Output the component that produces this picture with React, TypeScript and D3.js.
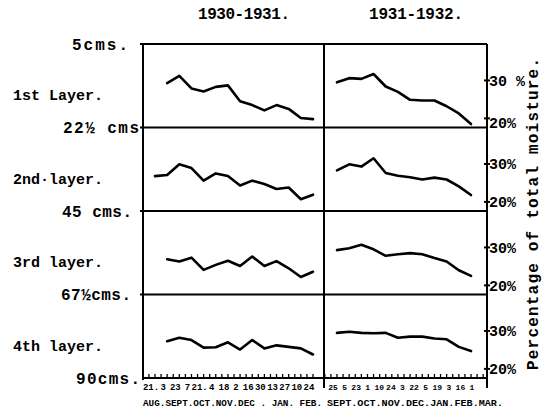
import React from "react";
import * as d3 from "d3";

const seasons = ["1930-1931.", "1931-1932."];
const layerNames = ["1st Layer.", "2nd·layer.", "3rd layer.", "4th layer."];
const depthLabels = ["5cms.", "22½ cms", "45 cms.", "67½cms.", "90cms."];
const leftDates = ["21.", "3", "23", "7", "21.", "4", "18", "2", "16", "30", "13", "27", "10", "24"];
const rightDates = ["25", "5", "23", "1", "10", "24", "3", "22", "5", "19", "3", "16", "1"];
const leftMonths = "AUG.SEPT.OCT.NOV.DEC . JAN. FEB.";
const rightMonths = "SEPT.OCT.NOV.DEC.JAN.FEB.MAR.";
const pctTicks = [30, 20];
const yAxisTitle = "Percentage of total moisture.";

// 1930-1931 season, one value per sampling date (null = no reading)
const left1 = [null, 29.3, 31.2, 27.9, 27.1, 28.3, 28.7, 24.5, 23.5, 22.1, 23.5, 22.5, 20.1, 19.8];
const left2 = [26.8, 27.1, 29.9, 28.9, 25.6, 27.5, 26.8, 24.3, 25.6, 24.7, 23.4, 23.8, 20.7, 21.9];
const left3 = [null, 26.9, 26.3, 27.3, 24.1, 25.4, 26.5, 25.1, 27.6, 25.1, 26.4, 24.5, 22.2, 23.6];
const left4 = [null, 27.3, 28.2, 27.6, 25.6, 25.7, 27.0, 25.1, 27.6, 25.4, 26.2, 25.8, 25.4, 23.8];
// 1931-1932 season
const right1 = [29.5, 30.6, 30.4, 31.7, 28.4, 27.0, 24.9, 24.7, 24.7, 23.2, 21.3, 18.5];
const right2 = [28.3, 29.9, 29.3, 31.5, 27.6, 26.9, 26.5, 25.9, 26.4, 25.9, 24.1, 21.8];
const right3 = [29.3, 29.8, 30.7, 29.5, 27.8, 28.2, 28.5, 28.2, 27.2, 26.3, 24.0, 22.5];
const right4 = [29.5, 29.8, 29.5, 29.4, 29.5, 28.2, 28.5, 28.5, 28.0, 27.8, 25.8, 24.7];

const leftSeries = [left1, left2, left3, left4];
const rightSeries = [right1, right2, right3, right4];

const FONT = "'Liberation Mono', 'DejaVu Sans Mono', monospace";

export default function App() {
  const W = 546, H = 412;
  const xLeftEdge = 143, xMid = 324, xRight = 487;
  const top = 44, rowH = 83.5;
  const bottom = top + rowH * 4;

  const xL = d3.scaleLinear().domain([0, leftDates.length - 1]).range([155, 313]);
  const xR = d3.scaleLinear().domain([0, rightSeries[0].length - 1]).range([337, 471]);
  const xRLab = d3.scalePoint<string>().domain(rightDates.map((_, i) => String(i))).range([333, 472]);

  const rowScale = (r: number) =>
    d3.scaleLinear().domain([17.6, 39.6]).range([top + rowH * (r + 1), top + rowH * r]);

  const mkLine = (x: d3.ScaleLinear<number, number>, y: d3.ScaleLinear<number, number>) =>
    d3
      .line<number | null>()
      .defined((v) => v != null)
      .x((_, i) => x(i))
      .y((v) => y(v as number));

  const ticksL = d3.range(-1, leftDates.length - 0.5, 0.5).filter((t) => xL(t) >= xLeftEdge && xL(t) <= xMid);
  const ticksR = d3.range(-1, rightSeries[0].length + 1, 0.5).filter((t) => xR(t) >= xMid && xR(t) <= xRight);

  const depthX = [128, 139, 132, 131, 140];
  const depthLen = [56, 76, 70, 70, 64];

  return (
    <svg width={W} height={H} style={{ display: "block", position: "absolute", left: 0, top: 0, background: "#fff" }}>
      <g fontFamily={FONT} fontWeight="bold" fill="#000">
        {/* season titles */}
        <text x={244} y={19} fontSize={16} textAnchor="middle" textLength={92}>{seasons[0]}</text>
        <text x={416} y={19} fontSize={16} textAnchor="middle" textLength={94}>{seasons[1]}</text>

        {/* depth labels */}
        {depthLabels.map((d, i) => (
          <text
            key={d}
            x={depthX[i] - depthLen[i]}
            y={top + rowH * i}
            dy="0.35em"
            fontSize={16}
            textLength={depthLen[i]}
            lengthAdjust="spacing"
          >
            {d}
          </text>
        ))}
        {/* layer labels */}
        {layerNames.map((d, i) => (
          <text key={d} x={13} y={top + rowH * i + rowH / 2 + 9} dy="0.35em" fontSize={15} textLength={90}>
            {d}
          </text>
        ))}

        {/* right % labels */}
        {d3.range(4).map((r) => {
          const y = rowScale(r);
          return pctTicks.map((p) => (
            <g key={`${r}-${p}`}>
              <line x1={xRight - 3} x2={xRight + 3} y1={y(p)} y2={y(p)} stroke="#000" strokeWidth={2} />
              <text x={xRight + 2} y={y(p) + (r === 0 && p === 20 ? 4 : 0)} dy="0.35em" fontSize={15}>
                {r === 0 && p === 30 ? `${p} %` : `${p}%`}
              </text>
            </g>
          ));
        })}

        {/* vertical axis title */}
        <text
          transform={`translate(532,214) rotate(-90)`}
          textAnchor="middle"
          dy="0.35em"
          fontSize={16}
          textLength={312}
        >
          {yAxisTitle}
        </text>

        {/* bottom tick labels */}
        {leftDates.map((d, i) => (
          <text key={`l${i}`} x={xL(i) - 4} y={390} fontSize={9} textAnchor="middle">{d}</text>
        ))}
        {rightDates.map((d, i) => (
          <text key={`r${i}`} x={xRLab(String(i)) as number} y={390} fontSize={8} textAnchor="middle">{d}</text>
        ))}
        <text x={xLeftEdge} y={406} fontSize={9} textLength={179} lengthAdjust="spacingAndGlyphs">{leftMonths}</text>
        <text x={xMid + 3} y={406} fontSize={9} textLength={176} lengthAdjust="spacingAndGlyphs">{rightMonths}</text>
      </g>

      {/* frame */}
      <g stroke="#000" strokeWidth={2} fill="none">
        {d3.range(5).map((i) => (
          <line key={i} x1={i === 4 ? xLeftEdge : 140} x2={xRight} y1={top + rowH * i} y2={top + rowH * i} />
        ))}
        <line x1={xLeftEdge} x2={xLeftEdge} y1={top} y2={bottom + 2} />
        <line x1={xMid} x2={xMid} y1={top} y2={bottom + 10} />
        <line x1={xRight} x2={xRight} y1={top} y2={bottom + 10} />
      </g>

      {/* axis ticks */}
      <g stroke="#000" strokeWidth={1.3}>
        {ticksL.map((t, i) => (
          <line key={`tl${i}`} x1={xL(t)} x2={xL(t)} y1={bottom - 4} y2={bottom} />
        ))}
        {ticksR.map((t, i) => (
          <line key={`tr${i}`} x1={xR(t)} x2={xR(t)} y1={bottom - 4} y2={bottom} />
        ))}
      </g>

      {/* data lines */}
      <g fill="none" stroke="#000" strokeWidth={2.6} strokeLinejoin="round" strokeLinecap="round">
        {leftSeries.map((s, r) => (
          <path key={`L${r}`} d={mkLine(xL, rowScale(r))(s) || ""} />
        ))}
        {rightSeries.map((s, r) => (
          <path key={`R${r}`} d={mkLine(xR, rowScale(r))(s) || ""} />
        ))}
      </g>
    </svg>
  );
}
